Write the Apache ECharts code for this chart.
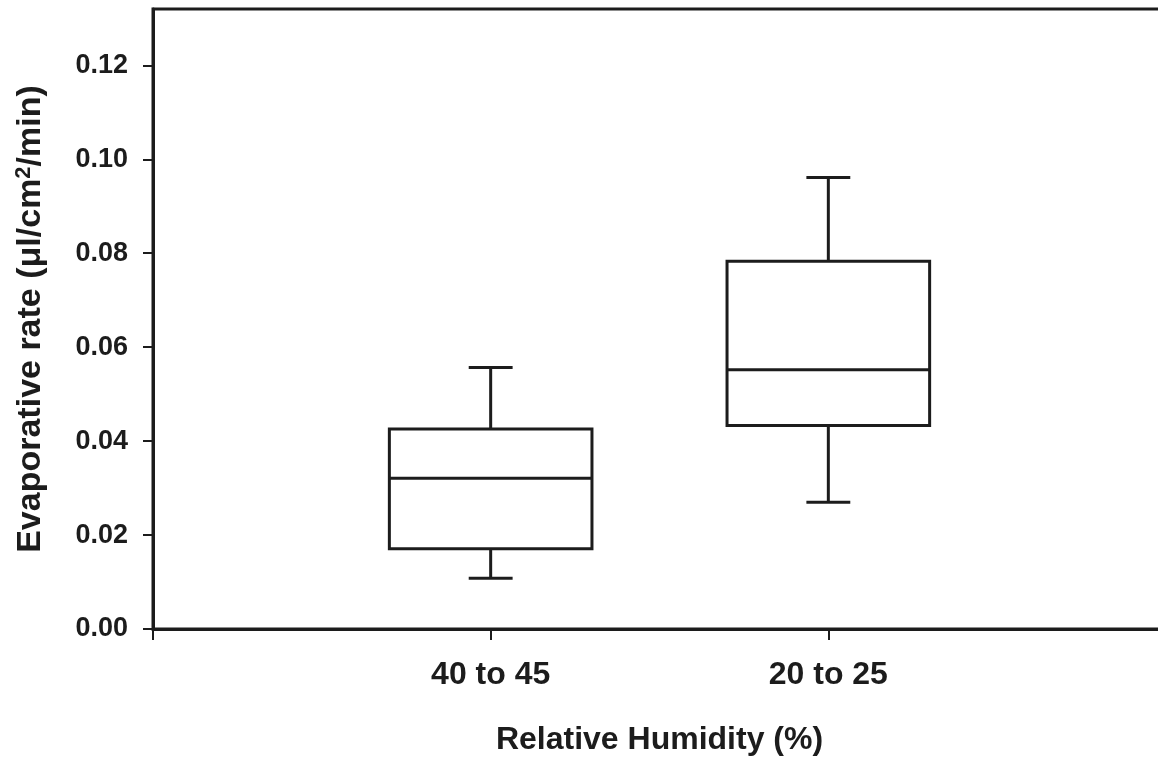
<!DOCTYPE html>
<html>
<head>
<meta charset="utf-8">
<script src="https://cdn.jsdelivr.net/npm/echarts@6/dist/echarts.min.js"></script>
<style>
  html, body { margin: 0; padding: 0; background: #fff; }
  #myChart { width: 1158px; height: 759px; }
</style>
</head>
<body>
<div id="myChart"></div>
<script>
  // 数据
  const categories = ['40 to 45', '20 to 25']
  const mins = [0.0108, 0.0270]
  const q1s = [0.0171, 0.0433]
  const medians = [0.0321, 0.0552]
  const q3s = [0.0426, 0.0783]
  const maxs = [0.0557, 0.0961]
  const yTicks = [0, 0.02, 0.04, 0.06, 0.08, 0.10, 0.12]

  const ink = '#1c1c1c'
  const font = '"Liberation Sans", Arial, sans-serif'

  // 位置 0 和 3 留空, 箱子在 1, 2
  const axisCats = [''].concat(categories, [''])
  const boxData = categories.map((c, i) => [i + 1, mins[i], q1s[i], medians[i], q3s[i], maxs[i]])

  const myChart = echarts.init(document.getElementById('myChart'))
  myChart.setOption({
    animation: false,
    grid: {
      left: 153,
      top: 9,
      right: -8,
      bottom: 130,
      outerBoundsMode: 'none',
      containLabel: false,
      show: true,
      borderColor: ink,
      borderWidth: 3,
      backgroundColor: 'transparent'
    },
    xAxis: {
      type: 'category',
      data: axisCats,
      boundaryGap: false,
      name: 'Relative Humidity (%)',
      nameLocation: 'middle',
      nameGap: 95,
      nameTextStyle: { color: ink, fontSize: 32, fontWeight: 'bold', fontFamily: font },
      axisLine: { lineStyle: { color: ink, width: 3 } },
      axisTick: { show: true, inside: false, length: 11, lineStyle: { color: ink, width: 2 } },
      axisLabel: {
        interval: 0,
        margin: 30,
        color: ink,
        fontSize: 32,
        fontWeight: 'bold',
        fontFamily: font
      },
      splitLine: { show: false }
    },
    yAxis: {
      type: 'value',
      min: 0,
      max: 0.132,
      interval: 0.02,
      name: 'Evaporative rate (\u03bcl/cm{sup|2}/min)',
      nameLocation: 'middle',
      nameGap: 104,
      nameTextStyle: {
        color: ink, fontSize: 34, fontWeight: 'bold', fontFamily: font,
        rich: {
          sup: { fontSize: 22, fontWeight: 'bold', fontFamily: font, color: ink, verticalAlign: 'top', padding: [0, 0, 14, 0] }
        }
      },
      axisLine: { show: true, lineStyle: { color: ink, width: 3 } },
      axisTick: { show: true, inside: false, length: 10, lineStyle: { color: ink, width: 2 }, customValues: yTicks },
      axisLabel: {
        margin: 25,
        color: ink,
        fontSize: 27,
        fontWeight: 'bold',
        fontFamily: font,
        customValues: yTicks,
        formatter: v => v.toFixed(2)
      },
      splitLine: { show: false }
    },
    series: [{
      type: 'custom',
      encode: { x: 0, y: [1, 5] },
      data: boxData,
      renderItem: function (params, api) {
        const x = api.value(0)
        const band = api.size([1, 0])[0]
        const boxW = band * 0.6
        const capW = band * 0.13
        const pMin = api.coord([x, api.value(1)])
        const pQ1 = api.coord([x, api.value(2)])
        const pMed = api.coord([x, api.value(3)])
        const pQ3 = api.coord([x, api.value(4)])
        const pMax = api.coord([x, api.value(5)])
        const cx = pMed[0]
        const st = { stroke: ink, lineWidth: 3, fill: null }
        return {
          type: 'group',
          children: [
            { type: 'line', shape: { x1: cx, y1: pMax[1], x2: cx, y2: pQ3[1] }, style: st },
            { type: 'line', shape: { x1: cx - capW / 2, y1: pMax[1], x2: cx + capW / 2, y2: pMax[1] }, style: st },
            { type: 'line', shape: { x1: cx, y1: pQ1[1], x2: cx, y2: pMin[1] }, style: st },
            { type: 'line', shape: { x1: cx - capW / 2, y1: pMin[1], x2: cx + capW / 2, y2: pMin[1] }, style: st },
            { type: 'rect', shape: { x: cx - boxW / 2, y: pQ3[1], width: boxW, height: pQ1[1] - pQ3[1] }, style: { stroke: ink, lineWidth: 3, fill: '#fff' } },
            { type: 'line', shape: { x1: cx - boxW / 2, y1: pMed[1], x2: cx + boxW / 2, y2: pMed[1] }, style: st }
          ]
        }
      }
    }]
  })
</script>
</body>
</html>
